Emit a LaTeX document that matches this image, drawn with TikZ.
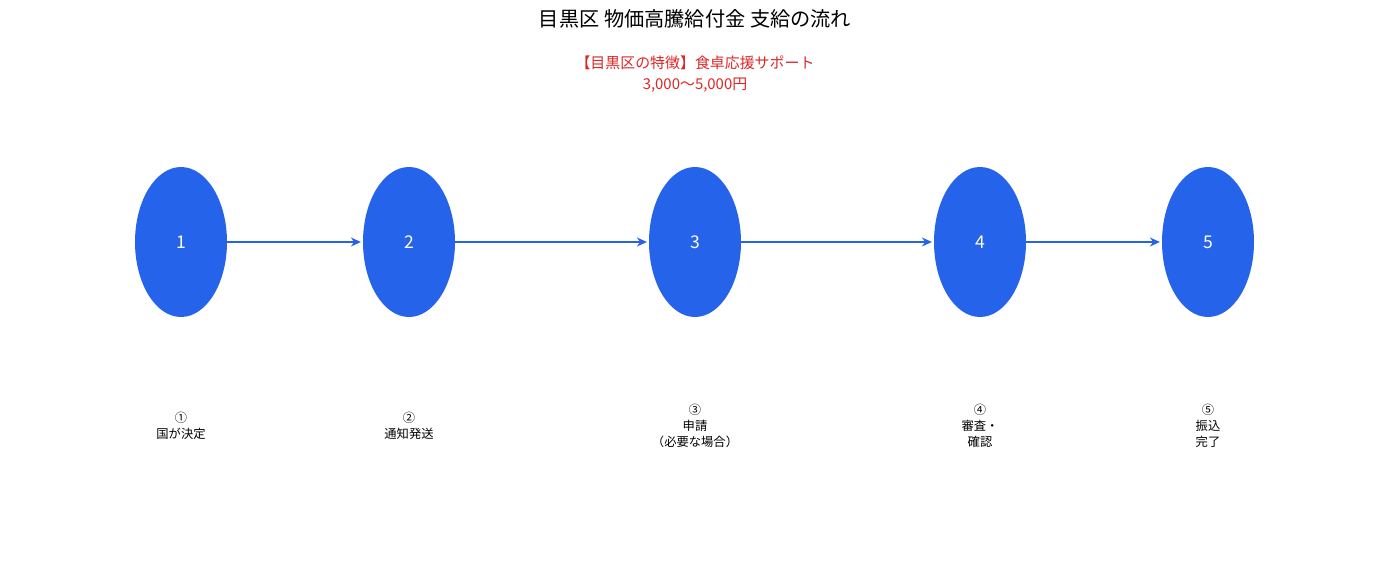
\documentclass[tikz,border=0pt]{standalone}
\usepackage{fontspec}
\setmainfont{Noto Sans CJK JP}
\usetikzlibrary{shapes.geometric,arrows.meta}
\definecolor{stepblue}{HTML}{2563EB}
\definecolor{notered}{HTML}{DC2626}
\tikzset{
  stage/.style={ellipse,fill=stepblue,minimum width=1.84cm,minimum height=3cm,inner sep=0,text=white,font=\fontsize{10}{12}\selectfont},
  flow/.style={draw=stepblue,line width=1.3pt,-{Stealth[length=2mm,width=1.8mm]},shorten >=1pt},
  caption/.style={align=center,font=\fontsize{7}{9}\selectfont}
}
\begin{document}
\begin{tikzpicture}[x=0.02cm,y=-0.02cm]
\useasboundingbox (0,0) rectangle (1389,587);

\node[font=\fontsize{11.5}{14}\selectfont] (title) at (695,19) {目黒区 物価高騰給付金 支給の流れ};
\node[align=center,text=notered,font=\fontsize{8.5}{12}\selectfont] (note) at (695,74) {【目黒区の特徴】食卓応援サポート\\3,000〜5,000円};

\node[stage] (s1) at (181,242) {1};
\node[stage] (s2) at (409,242) {2};
\node[stage] (s3) at (695,242) {3};
\node[stage] (s4) at (980,242) {4};
\node[stage] (s5) at (1208,242) {5};

\draw[flow] (s1) -- (s2);
\draw[flow] (s2) -- (s3);
\draw[flow] (s3) -- (s4);
\draw[flow] (s4) -- (s5);

\node[caption] (c1) at (181,426) {①\\国が決定};
\node[caption] (c2) at (409,426) {②\\通知発送};
\node[caption] (c3) at (695,426) {③\\申請\\（必要な場合）};
\node[caption] (c4) at (980,426) {④\\審査・\\確認};
\node[caption] (c5) at (1208,426) {⑤\\振込\\完了};

\end{tikzpicture}
\end{document}
